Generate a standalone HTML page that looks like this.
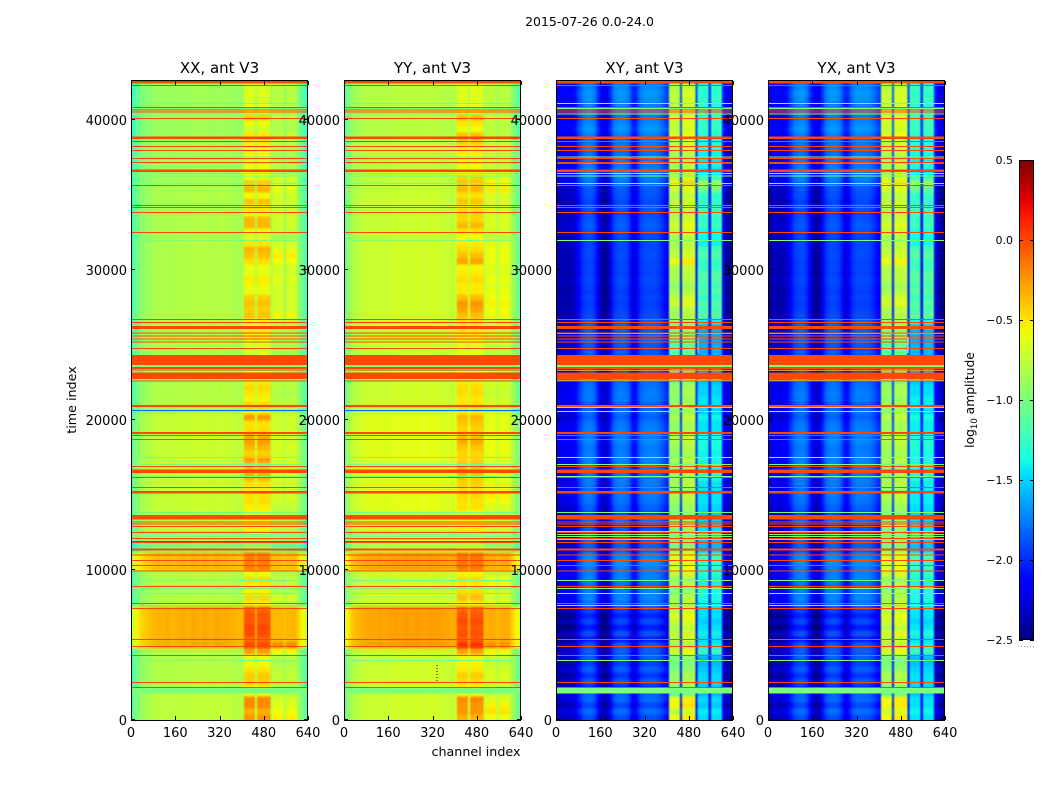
<!DOCTYPE html>
<html lang="en">
<head>
<meta charset="utf-8">
<title>2015-07-26 0.0-24.0</title>
<style>
html,body{margin:0;padding:0;background:#fff;width:1050px;height:800px;overflow:hidden}
svg{display:block}
text{font-family:"DejaVu Sans","Liberation Sans",sans-serif;fill:#000}
</style>
</head>
<body>
<svg id="figure" width="1050" height="800" viewBox="0 0 1050 800" xmlns="http://www.w3.org/2000/svg">
  <rect width="1050" height="800" fill="#fff"/>
  <text x="589.5" y="26" font-size="12.5" text-anchor="middle">2015-07-26 0.0-24.0</text>
  <text x="476" y="756" font-size="12.7" text-anchor="middle">channel index</text>
  <text x="0" y="0" font-size="12.7" text-anchor="middle" transform="translate(76 400) rotate(-90)">time index</text>
  <defs>
    <linearGradient id="jetGradient" x1="0" y1="1" x2="0" y2="0"></linearGradient>
    <filter id="soften" x="-5%" y="-2%" width="110%" height="104%" color-interpolation-filters="sRGB">
      <feGaussianBlur stdDeviation="0.8 1.1"/>
    </filter>
  </defs>
  <g id="panels"></g>
  <g id="labels"></g>
  <g id="colorbar"></g>
</svg>
<script>
// ---- Data ----
const panelNames = ["XX, ant V3", "YY, ant V3", "XY, ant V3", "YX, ant V3"];
const channelTicks = [0, 160, 320, 480, 640];
const timeTicks = [0, 10000, 20000, 30000, 40000];
const colorbarTicks = [0.5, 0, -0.5, -1, -1.5, -2, -2.5];
const innerBandStarts = [408, 456];
const innerBandEnds = [448, 504];
const outerBandStarts = [512, 560];
const outerBandEnds = [552, 600];

// Mean log10 amplitude for each 8-channel bin
const xxProfile = [-1.2,-1.1,-1.02,-.96,-.92,-.89,-.87,-.85,-.84,-.82,-.8,-.8,-.78,-.79,-.8,-.78,-.77,-.78,-.8,-.8,-.79,-.78,-.77,-.76,-.78,-.79,-.78,-.76,-.75,-.76,-.77,-.78,-.76,-.75,-.76,-.78,-.79,-.77,-.75,-.75,-.76,-.77,-.76,-.77,-.78,-.78,-.79,-.79,-.8,-.8,-.8,-.62,-.62,-.62,-.62,-.62,-.75,-.62,-.62,-.62,-.62,-.62,-.62,-.82,-.8,-.8,-.8,-.8,-.8,-.84,-.8,-.8,-.8,-.8,-.8,-.88,-.95,-1.02,-1.1,-1.18];
const yyProfile = [-1.1,-.98,-.9,-.84,-.8,-.78,-.76,-.75,-.74,-.73,-.72,-.72,-.71,-.72,-.73,-.71,-.7,-.71,-.72,-.72,-.71,-.7,-.7,-.69,-.7,-.71,-.7,-.69,-.68,-.69,-.7,-.7,-.69,-.68,-.69,-.7,-.71,-.7,-.68,-.68,-.69,-.7,-.69,-.7,-.71,-.71,-.72,-.72,-.73,-.73,-.72,-.6,-.6,-.6,-.6,-.6,-.72,-.6,-.6,-.6,-.6,-.6,-.6,-.76,-.74,-.74,-.74,-.74,-.74,-.78,-.74,-.74,-.74,-.74,-.74,-.82,-.88,-.95,-1.02,-1.12];
const xyProfile = [-2.3,-2.28,-2.25,-2.25,-2.24,-2.25,-2.26,-2.25,-2.2,-2.12,-2,-1.92,-1.85,-1.82,-1.8,-1.8,-1.82,-1.88,-2,-2.15,-2.28,-2.32,-2.32,-2.3,-2.12,-1.95,-1.86,-1.82,-1.8,-1.8,-1.8,-1.82,-1.86,-1.94,-2.1,-2.15,-2.08,-1.94,-1.86,-1.82,-1.8,-1.8,-1.8,-1.8,-1.8,-1.82,-1.84,-1.88,-1.94,-2,-2.05,-1.1,-1.1,-1.1,-1.1,-1.1,-2,-1.02,-1.02,-1.02,-1.02,-1.02,-1.02,-2.05,-1.55,-1.55,-1.55,-1.55,-1.55,-2.1,-1.55,-1.55,-1.55,-1.55,-1.55,-2.15,-2.22,-2.3,-2.35,-2.4];
const yxProfile = [-2.3,-2.28,-2.25,-2.24,-2.24,-2.26,-2.26,-2.24,-2.2,-2.1,-2,-1.9,-1.84,-1.82,-1.8,-1.8,-1.82,-1.88,-2,-2.15,-2.28,-2.32,-2.32,-2.28,-2.1,-1.95,-1.86,-1.82,-1.8,-1.8,-1.8,-1.82,-1.87,-1.96,-2.1,-2.15,-2.08,-1.94,-1.86,-1.82,-1.8,-1.8,-1.8,-1.8,-1.8,-1.82,-1.85,-1.88,-1.94,-2,-2.05,-1.07,-1.07,-1.07,-1.07,-1.07,-1.96,-1.02,-1.02,-1.02,-1.02,-1.02,-1.02,-2.05,-1.52,-1.52,-1.52,-1.52,-1.52,-2.1,-1.52,-1.52,-1.52,-1.52,-1.52,-2.15,-2.22,-2.3,-2.35,-2.4];

// Slow amplitude changes through the night
const blockStarts = [0,2200,4800,7467,10000,11400,11933,13900,20600,22500,31900,35600,39000];
const xxBlockOffset = [.02,-.02,.45,-.02,.42,-.2,.02,.05,-.02,-.03,-.04,-.08,-.1];
const yyBlockOffset = [0,0,.42,0,.42,-.1,.03,.07,0,0,-.02,-.05,-.08];
const xyBlockOffset = [-.03,-.08,-.12,0,.05,-.08,0,0,0,-.06,-.08,0,.03];
const yxBlockOffset = [-.03,-.08,-.12,0,.05,-.08,0,0,0,-.06,-.09,0,.03];

// RFI strength in the two inner bands, one value per 400 time steps from the bottom
const xxRfi = [.8,.6,.9,.9,0,.3,.5,.5,.3,.1,.2,.8,.4,.2,.35,.4,.3,.3,.2,.3,.4,.2,.3,.4,.1,.1,.1,.1,-.2,-.2,0,.1,.1,.1,.1,.1,.2,.2,.1,.2,.6,.5,.3,.7,.3,.5,.7,.6,.2,.2,.7,.3,.5,.2,.3,.4,.3,0,0,0,0,0,0,.1,.2,.2,.3,.6,.5,.6,.5,.1,.2,.3,.1,.1,.4,.6,.7,.3,0,.1,.7,.7,.2,.4,.6,.2,.7,.7,.2,.3,.3,.1,.2,.2,.5,.5,.1,.3,.7,.3,.3,.1,.2,.1,.1];
const yyRfi = [.6,.8,.8,.9,0,.2,.3,.4,.2,.1,.1,.7,.6,.3,.35,.3,.4,.3,.2,.2,.5,.3,.2,.3,.1,.1,.1,.1,-.1,-.2,0,.1,.1,.1,0,.1,.1,.2,.1,.2,.3,.4,.3,.2,.2,.3,.5,.4,.2,.3,.4,.2,.3,.2,.3,.3,.2,0,0,0,0,0,0,.1,.2,.2,.3,.5,.7,.8,.5,.2,.2,.3,.2,.1,.7,.5,.3,.2,.1,.3,.6,.4,.4,.3,.5,.3,.6,.6,.5,.2,.2,.1,.2,.3,.6,.7,.2,.4,.7,.3,.2,.1,.1,.1,.1];
const xyRfi = [1.2,.8,1.3,1.2,0,.4,.6,.6,.4,.3,.4,1.1,.7,1,1,.9,1.1,1.3,.9,.6,.5,.4,.5,.5,.8,.9,.9,.9,.3,.3,.2,.3,.4,.3,.3,.3,.5,.6,.4,.5,.5,.6,.3,.6,.4,.5,.6,.6,.4,.4,.6,.4,.5,.3,.4,.4,.3,0,0,0,0,0,0,.3,.4,.4,.5,.6,.7,1,.9,.6,.5,.7,.7,.8,1.3,.9,.8,.7,.8,.9,1.1,.9,.8,.9,.9,.8,1.1,1.3,.8,.6,.6,.5,.6,.7,.8,.9,.7,.8,.8,.7,.7,.7,.7,.6,.6];
const yxRfi = [1.2,.9,1.2,1.2,0,.4,.6,.7,.4,.3,.4,1.1,.8,1,1.1,.9,1.1,1.2,.9,.6,.5,.5,.5,.5,.8,.9,.9,.8,.3,.3,.2,.3,.4,.3,.3,.3,.5,.6,.4,.5,.5,.6,.3,.6,.4,.5,.6,.6,.4,.4,.6,.4,.5,.3,.4,.4,.3,0,0,0,0,0,0,.3,.4,.4,.5,.6,.7,1,.9,.6,.5,.7,.7,.8,1.2,.9,.8,.7,.8,.9,1.1,.9,.8,.9,.9,.8,1.1,1.2,.8,.6,.6,.5,.6,.7,.8,.9,.7,.8,.8,.7,.7,.7,.7,.6,.6];

// RFI strength in the two outer bands
const xxOuterRfi = [.5,.4,.3,.2,0,0,.1,.2,.1,0,.1,.5,.3,0,0,0,0,0,0,.1,.3,.1,.1,.2,0,0,0,0,-.2,-.2,0,0,0,0,0,0,.1,.2,.1,.1,.2,.1,.1,.2,.1,.2,.1,.2,.1,.1,.1,.1,.1,.1,0,.1,.1,0,0,0,0,0,0,0,.1,.1,.2,.5,.3,.3,.3,.3,.3,.4,.3,.3,.5,.6,.4,.3,0,.2,.3,.3,.3,.3,.3,.3,.5,.4,.4,.1,.2,.1,.1,.1,.3,.3,.2,.2,.3,.3,.2,.3,.2,.3,.2];
const yyOuterRfi = [.3,.5,.4,.2,0,0,.1,.2,.1,0,.1,.3,.2,0,0,0,0,0,0,.1,.2,.1,.2,.3,0,0,0,0,-.1,-.2,0,0,0,0,0,0,.2,.3,.2,.1,.1,.1,.1,.1,.1,.2,.1,.1,.1,.1,.1,.1,.1,.1,0,.1,.1,0,0,0,0,0,0,0,.1,.1,.1,.3,.3,.4,.3,.3,.2,.3,.2,.2,.3,.3,.3,.2,0,.1,.2,.2,.2,.2,.2,.2,.5,.5,.3,.1,.1,.1,.1,.1,.1,.1,.1,.1,.2,.1,.1,.1,.1,.1,.1];
const xyOuterRfi = [.2,.3,.1,.2,0,.2,.3,.3,.2,.1,.1,.7,.5,.4,.5,.4,.3,.4,.4,.3,.4,.4,.3,.3,.5,.4,.5,.6,.1,.1,.1,.2,.1,.1,.1,.1,.2,.2,.2,.2,.4,.5,.3,.4,.3,.4,.4,.4,.2,.2,.3,.1,.2,.2,.1,.1,.1,0,0,0,0,0,0,0,0,0,.4,.9,.8,.9,.7,.9,.8,.9,.9,.7,.7,.9,.8,.4,.5,.5,.8,.7,.8,.8,.7,.7,1.2,1.4,.6,.2,.3,.2,.3,.4,.4,.4,.5,.5,.5,.4,.4,.5,.4,.5,.4];
const yxOuterRfi = [.2,.3,.2,.2,0,.2,.3,.3,.2,.1,.1,.7,.5,.4,.5,.4,.3,.4,.4,.3,.4,.4,.3,.3,.5,.4,.5,.6,.1,.1,.1,.2,.1,.1,.1,.1,.2,.2,.2,.2,.4,.5,.3,.4,.3,.4,.4,.4,.2,.2,.3,.1,.2,.2,.1,.1,.1,0,0,0,0,0,0,0,0,0,.4,.9,.8,.9,.7,.9,.8,.9,.9,.7,.7,.9,.8,.4,.5,.5,.8,.7,.8,.8,.7,.7,1.1,1.3,.6,.2,.3,.2,.3,.4,.4,.4,.5,.5,.5,.4,.4,.5,.4,.5,.4];

// Row-to-row brightness of the cross-hand background
const crossRowOffset = [-.06,.04,-.08,.02,0,-.1,.03,-.08,.04,-.05,.05,.03,.08,-.1,.04,-.12,.02,-.1,.03,.02,.08,.06,.02,.07,.05,.02,.07,.03,.04,.05,.02,-.03,-.1,.03,-.1,-.03,.02,.04,.02,.04,.06,.03,.06,.08,.05,.04,.08,.05,.06,.03,-.03,.02,-.05,.04,.05,.02,.06,0,0,0,0,0,0,.03,.01,.04,.02,-.04,-.06,-.08,-.06,-.08,-.06,-.04,-.07,-.05,-.06,-.04,-.05,-.05,-.04,.01,.04,.01,-.02,.02,-.03,.01,.02,.03,.06,.08,.03,.06,.02,.06,.04,.03,.1,.06,.02,.08,.03,.07,.1,.06,.04];

// Flagged time rows (centre and thickness, in time index units)
const orangeTimes = [42533,42313,40847,40667,40553,40113,38820,38580,38247,37980,37447,37180,36620,35647,34287,34180,33847,32513,26713,26513,26180,25820,25620,25420,25200,24780,24000,23467,23333,22947,22600,20933,19133,18980,18713,16887,16580,16180,15487,15180,13533,13220,13067,12887,12487,12087,11847,11353,11000,10647,10313,9933,8913,7780,7447,5380,4913,4313,2513,2180];
const orangeThickness = [200,60,60,60,60,60,170,60,60,60,60,60,170,60,60,60,60,60,60,60,200,60,60,60,60,60,667,133,60,420,60,133,133,60,60,60,220,60,60,180,300,60,60,60,60,60,60,133,60,60,60,60,60,60,60,60,60,60,60,60];
const greenTimes = [41113,40800,40400,37530,37130,36420,36267,35780,31980,25780,23587,23287,22667,20847,20580,17513,17047,16220,13847,12553,12380,12220,12047,9313,8780,8447,7620,3980,1967];
const greenThickness = [70,140,70,70,70,70,70,70,70,70,170,70,70,70,70,70,70,70,70,70,70,70,70,70,70,70,70,70,430];
const parallelDipTimes = [20647,11887];
const flaggedLevel = 0;
const greenLevel = -1;
const dipLevel = -1.8;

const xxPanel = { profile: xxProfile, offsets: xxBlockOffset, rfi: xxRfi, outer: xxOuterRfi, rowOffset: null };
const yyPanel = { profile: yyProfile, offsets: yyBlockOffset, rfi: yyRfi, outer: yyOuterRfi, rowOffset: null };
const xyPanel = { profile: xyProfile, offsets: xyBlockOffset, rfi: xyRfi, outer: xyOuterRfi, rowOffset: crossRowOffset };
const yxPanel = { profile: yxProfile, offsets: yxBlockOffset, rfi: yxRfi, outer: yxOuterRfi, rowOffset: crossRowOffset };
const panelData = [xxPanel, yyPanel, xyPanel, yxPanel];

// ---- Layout ----
const SVGNS = "http://www.w3.org/2000/svg";
const panelLefts = [131, 344, 556, 768];
const panelWidth = 177;
const plotTop = 81, plotBottom = 720;
const timeMax = 42600, channelMax = 640, binWidth = 8, rowStep = 400;
const cbLeft = 1019, cbWidth = 15, cbTop = 160, cbBottom = 640;
const levelScale = 0.44, outerScale = 0.5;

function xScale(p, ch) { return panelLefts[p] + ch / channelMax * panelWidth; }
function yScale(t) { return plotBottom - t / timeMax * (plotBottom - plotTop); }
function cbScale(v) { return cbBottom - (v + 2.5) / 3 * (cbBottom - cbTop); }

function interp(pts, x) {
  for (let i = 1; i < pts.length; i++) {
    if (x <= pts[i][0]) {
      const a = pts[i - 1], b = pts[i];
      return a[1] + (b[1] - a[1]) * (x - a[0]) / (b[0] - a[0]);
    }
  }
  return pts[pts.length - 1][1];
}
const jetR = [[0,0],[.35,0],[.66,1],[.89,1],[1,.5]];
const jetG = [[0,0],[.125,0],[.375,1],[.64,1],[.91,0],[1,0]];
const jetB = [[0,.5],[.11,1],[.34,1],[.65,0],[1,0]];
function jet(v) {
  const x = Math.max(0, Math.min(1, (v + 2.5) / 3));
  const c = function (p) { return Math.round(interp(p, x) * 255); };
  return "rgb(" + c(jetR) + "," + c(jetG) + "," + c(jetB) + ")";
}
function blockIndex(t) {
  let k = 0;
  for (let i = 0; i < blockStarts.length; i++) { if (t >= blockStarts[i]) k = i; }
  return k;
}
function inRanges(ch, starts, ends) {
  for (let i = 0; i < starts.length; i++) {
    if (ch >= starts[i] && ch < ends[i]) return true;
  }
  return false;
}
function make(tag, attrs, parent) {
  const el = document.createElementNS(SVGNS, tag);
  for (const k in attrs) el.setAttribute(k, attrs[k]);
  parent.appendChild(el);
  return el;
}

const panelsGroup = document.getElementById("panels");
const labelsGroup = document.getElementById("labels");
const defs = document.querySelector("defs");

panelData.forEach(function (panel, p) {
  const clip = make("clipPath", { id: "clip" + p }, defs);
  make("rect", { x: panelLefts[p], y: plotTop, width: panelWidth, height: plotBottom - plotTop }, clip);

  const g = make("g", { "clip-path": "url(#clip" + p + ")" }, panelsGroup);
  
  
  const cells = make("g", { filter: "url(#soften)", "shape-rendering": "crispEdges" }, g);
  
  
  const flags = make("g", { "shape-rendering": "crispEdges" }, g);
  
  

  panel.rfi.forEach(function (level, row) {
    const t = row * rowStep;
    const off = panel.offsets[blockIndex(t + rowStep / 2)];
    const rowOff = panel.rowOffset ? panel.rowOffset[row] : 0;
    panel.profile.forEach(function (base, bin) {
      const ch = bin * binWidth;
      let v = base + off;
      if (inRanges(ch, innerBandStarts, innerBandEnds)) {
        v += level * levelScale;
      } else if (inRanges(ch, outerBandStarts, outerBandEnds)) {
        v += panel.outer[row] * outerScale;
      } else {
        v += rowOff;
      }
      let x0 = xScale(p, ch), x1 = xScale(p, ch + binWidth);
      let y1 = yScale(t), y0 = yScale(t + rowStep);
      if (bin === 0) x0 -= 6;
      if (bin === panel.profile.length - 1) x1 += 6;
      if (row === 0) y1 += 6;
      if (row === panel.rfi.length - 1) y0 -= 6;
      const cell = make("rect", { x: x0, y: y0, width: x1 - x0 + 0.4, height: y1 - y0 + 0.4, fill: jet(v) }, cells);
      
      
    });
  });

  function drawFlag(t, thick, level) {
    const y0 = yScale(t + thick / 2), y1 = yScale(t - thick / 2);
    const r = make("rect", { x: xScale(p, 0), y: y0, width: panelWidth, height: Math.max(1, y1 - y0), fill: jet(level) }, flags);
    
    
  }
  if (p < 2) { parallelDipTimes.forEach(function (t) { drawFlag(t, 60, dipLevel); }); }
  greenTimes.forEach(function (t, i) { drawFlag(t, greenThickness[i], greenLevel); });
  orangeTimes.forEach(function (t, i) { drawFlag(t, orangeThickness[i], flaggedLevel); });

  const frame = make("rect", { x: panelLefts[p] + .5, y: plotTop - .5, width: panelWidth - 1, height: plotBottom - plotTop + 1, fill: "none", stroke: "#000", "stroke-width": 1, "shape-rendering": "crispEdges" }, panelsGroup);
  
  

  channelTicks.forEach(function (ch) {
    const x = Math.round(xScale(p, ch)) + .5;
    const a = make("path", { d: "M" + x + " " + plotBottom + "v-4M" + x + " " + plotTop + "v4", stroke: "#000", fill: "none", "shape-rendering": "crispEdges" }, panelsGroup);
    
    
    const lab = make("text", { x: xScale(p, ch), y: 737, "font-size": 13, "text-anchor": "middle" }, labelsGroup);
    lab.textContent = String(ch);
    
    
  });
  timeTicks.forEach(function (t) {
    const y = Math.round(yScale(t)) - .5;
    const l = panelLefts[p], r = l + panelWidth;
    const a = make("path", { d: "M" + l + " " + y + "h4M" + r + " " + y + "h-4", stroke: "#000", fill: "none", "shape-rendering": "crispEdges" }, panelsGroup);
    
    
    const lab = make("text", { x: l - 4, y: yScale(t) + 5, "font-size": 13, "text-anchor": "end" }, labelsGroup);
    lab.textContent = String(t);
    
    
  });
  const title = make("text", { x: panelLefts[p] + panelWidth / 2, y: 73, "font-size": 15, "text-anchor": "middle" }, labelsGroup);
  title.textContent = panelNames[p];
  
  
});

// small isolated details
const detailLines = [[437, 665, 437, 681, "#000", "1 2"], [698, 337, 698, 353, "#7dff7a", "none"], [908, 337, 908, 353, "#fff", "none"]];
detailLines.forEach(function (d) {
  const ln = make("line", { x1: d[0], y1: d[1], x2: d[2], y2: d[3], stroke: d[4], "stroke-dasharray": d[5], "stroke-width": 1 }, panelsGroup);
  
  
});

// ---- Colorbar ----
const gradient = document.getElementById("jetGradient");
for (let i = 0; i <= 48; i++) {
  const v = -2.5 + 3 * i / 48;
  make("stop", { offset: (i / 48), "stop-color": jet(v) }, gradient);
}
const cb = document.getElementById("colorbar");
const cbRect = make("rect", { x: cbLeft + .5, y: cbTop + .5, width: cbWidth - 1, height: cbBottom - cbTop - 1, fill: "url(#jetGradient)", stroke: "#000", "stroke-width": 1, "shape-rendering": "crispEdges" }, cb);


colorbarTicks.forEach(function (v) {
  const y = Math.round(cbScale(v)) + .5;
  const tick = make("path", { d: "M" + cbLeft + " " + y + "h4M" + (cbLeft + cbWidth) + " " + y + "h-4", stroke: "#000", fill: "none", "shape-rendering": "crispEdges" }, cb);
  
  
  const lab = make("text", { x: 1013, y: cbScale(v) + 4, "font-size": 11, "text-anchor": "end" }, cb);
  lab.textContent = (v < 0 ? "\u2212" : "") + Math.abs(v).toFixed(1);
  
  
});
const cbDots = make("line", { x1: 1018, y1: 646.5, x2: 1035, y2: 646.5, stroke: "#999", "stroke-dasharray": "1 2", "stroke-width": 1 }, cb);



const cbLabel = make("text", { x: 0, y: 0, "font-size": 12.3, "text-anchor": "middle", transform: "translate(974 400) rotate(-90)" }, cb);


const t1 = make("tspan", {}, cbLabel); t1.textContent = "log";
const t2 = make("tspan", { dy: 3, "font-size": 8.5 }, cbLabel); t2.textContent = "10";
const t3 = make("tspan", { dy: -3 }, cbLabel); t3.textContent = " amplitude";
</script>
</body>
</html>
